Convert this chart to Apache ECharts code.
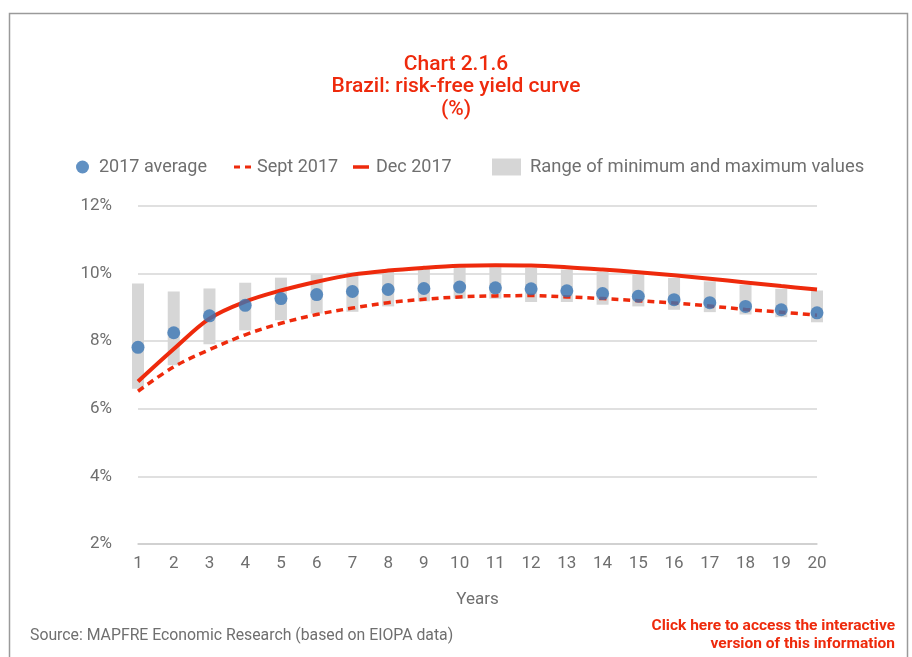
<!DOCTYPE html>
<html>
<head>
<meta charset="utf-8">
<script src="https://cdn.jsdelivr.net/npm/echarts@6/dist/echarts.min.js"></script>
<style>
html,body{margin:0;padding:0;background:#fff;}
#c{width:912px;height:657px;}
</style>
</head>
<body>
<div id="c"></div>
<script>
const years = ['1','2','3','4','5','6','7','8','9','10','11','12','13','14','15','16','17','18','19','20'];
const avg2017 = [7.82, 8.25, 8.75, 9.06, 9.26, 9.38, 9.47, 9.53, 9.56, 9.60, 9.58, 9.55, 9.49, 9.41, 9.33, 9.23, 9.14, 9.03, 8.93, 8.84];
const sept2017 = [6.52, 7.24, 7.75, 8.19, 8.53, 8.79, 8.98, 9.14, 9.24, 9.31, 9.34, 9.35, 9.31, 9.26, 9.20, 9.13, 9.04, 8.94, 8.86, 8.77];
const dec2017 = [6.81, 7.77, 8.67, 9.17, 9.50, 9.76, 9.97, 10.09, 10.17, 10.23, 10.25, 10.24, 10.19, 10.12, 10.04, 9.95, 9.85, 9.74, 9.63, 9.53];
const rangeMin = [6.59, 7.29, 7.91, 8.32, 8.62, 8.82, 8.87, 9.03, 9.18, 9.26, 9.26, 9.16, 9.16, 9.08, 9.03, 8.93, 8.86, 8.79, 8.71, 8.56];
const rangeMax = [9.71, 9.47, 9.56, 9.73, 9.88, 9.98, 10.04, 10.12, 10.15, 10.18, 10.19, 10.17, 10.12, 10.05, 9.97, 9.87, 9.77, 9.67, 9.55, 9.50];
const yTicks = [2, 4, 6, 8, 10, 12];

const RED = '#ee2a0c';
const BLUE = '#3a76b4';
const GRAY = '#d6d6d6';
const TXT = '#6f6f6f';
const FONT = 'Roboto';

const rangeSpan = rangeMax.map((v, i) => +(v - rangeMin[i]).toFixed(2));

const chart = echarts.init(document.getElementById('c'));
const legendText = {color: TXT, fontSize: 18, fontFamily: FONT};
chart.setOption({
  animation: false,
  backgroundColor: '#fff',
  title: {
    text: 'Chart 2.1.6\nBrazil: risk-free yield curve\n(%)',
    left: 'center', top: 48,
    textStyle: {color: RED, fontSize: 21, fontWeight: 500, fontFamily: FONT, lineHeight: 22.5}
  },
  legend: [
    {data: [{name: '2017 average', icon: 'circle'}], left: 71, top: 153, itemWidth: 13, itemHeight: 13,
      textStyle: Object.assign({}, legendText, {padding: [0,0,0,5]}), selectedMode: false},
    {data: [{name: 'Sept 2017', icon: 'path://M0,0H6V3H0Z M11,0H17V3H11Z', itemStyle: {color: RED}}], left: 229, top: 153, itemWidth: 17, itemHeight: 3,
      textStyle: Object.assign({}, legendText, {padding: [0,0,0,1]}), selectedMode: false},
    {data: [{name: 'Dec 2017', icon: 'rect', itemStyle: {color: RED}}], left: 348, top: 153, itemWidth: 16, itemHeight: 3.5,
      textStyle: Object.assign({}, legendText, {padding: [0,0,0,2]}), selectedMode: false},
    {data: [{name: 'Range of minimum and maximum values', icon: 'rect', itemStyle: {color: GRAY}}], left: 487, top: 153, itemWidth: 29, itemHeight: 17,
      textStyle: Object.assign({}, legendText, {padding: [0,0,0,4], fontSize: 18.4}), selectedMode: false}
  ],
  grid: {left: 138, right: 95, top: 206, bottom: 113, containLabel: false},
  xAxis: {
    type: 'category', data: years, boundaryGap: false,
    name: 'Years', nameLocation: 'middle', nameGap: 47,
    nameTextStyle: {color: TXT, fontSize: 17, fontFamily: FONT},
    axisLine: {show: true, lineStyle: {color: '#cccccc', width: 1.5}},
    axisTick: {show: false},
    axisLabel: {color: TXT, fontSize: 17, fontFamily: FONT, margin: 11}
  },
  yAxis: {
    type: 'value', min: 2, max: 12, interval: 2,
    axisLine: {show: false}, axisTick: {show: false},
    axisLabel: {color: TXT, fontSize: 17, fontFamily: FONT, margin: 26, formatter: v => yTicks.includes(v) ? v + '%' : ''},
    splitLine: {lineStyle: {color: '#d6d6d6', width: 1.5}}
  },
  graphic: [
    {type: 'rect', shape: {x: 9.5, y: 13.5, width: 898, height: 700}, style: {fill: 'none', stroke: '#9a9a9a', lineWidth: 1.5}, silent: true, z: -10},
    {type: 'text', left: 30, top: 628, style: {text: 'Source: MAPFRE Economic Research (based on EIOPA data)', fill: TXT, fontSize: 15.8, fontFamily: FONT}},
    {type: 'text', right: 17, top: 618, style: {text: 'Click here to access the interactive', fill: RED, fontSize: 15.5, fontWeight: 'bold', fontFamily: FONT}},
    {type: 'text', right: 17, top: 636, style: {text: 'version of this information', fill: RED, fontSize: 15.5, fontWeight: 'bold', fontFamily: FONT}}
  ],
  series: [
    {name: 'base', type: 'bar', stack: 'r', data: rangeMin, barWidth: 12, itemStyle: {color: 'rgba(0,0,0,0)'}, silent: true},
    {name: 'Range of minimum and maximum values', type: 'bar', stack: 'r', data: rangeSpan, barWidth: 12, itemStyle: {color: GRAY}},
    {name: 'Sept 2017', type: 'line', data: sept2017, smooth: 0.35, showSymbol: false, symbol: 'none',
      lineStyle: {color: RED, width: 3.5, type: [7, 5]}, itemStyle: {color: RED}},
    {name: 'Dec 2017', type: 'line', data: dec2017, smooth: 0.35, showSymbol: false, symbol: 'none',
      lineStyle: {color: RED, width: 4}, itemStyle: {color: RED}},
    {name: '2017 average', type: 'scatter', data: avg2017, symbolSize: 13, itemStyle: {color: BLUE}, z: 5}
  ]
});
</script>
</body>
</html>
